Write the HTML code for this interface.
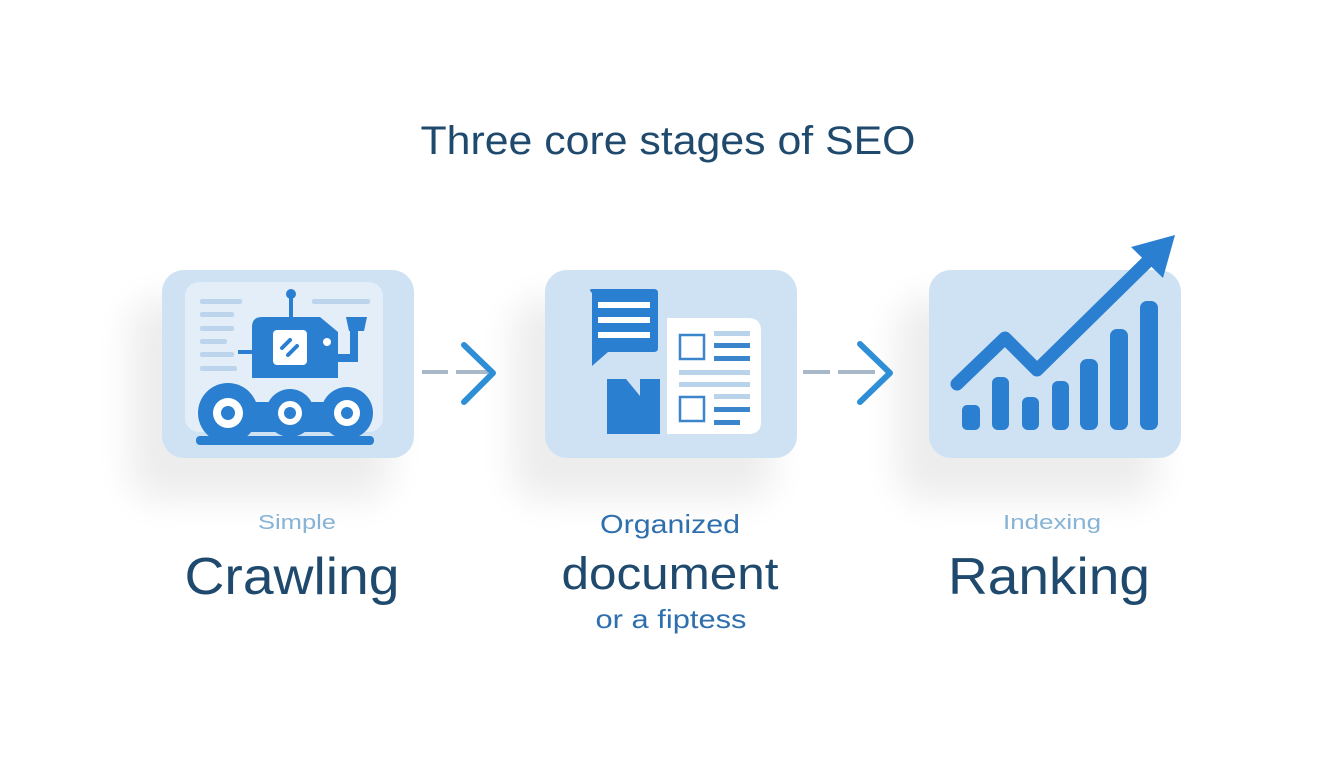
<!DOCTYPE html>
<html><head><meta charset="utf-8"><style>
html,body{margin:0;padding:0;background:#fff;}
svg{display:block;}
text{font-family:"Liberation Sans",sans-serif;}
</style></head><body>
<svg width="1344" height="768" viewBox="0 0 1344 768" xmlns="http://www.w3.org/2000/svg">
<defs>
<filter id="sh" x="-50%" y="-50%" width="200%" height="200%"><feGaussianBlur stdDeviation="18"/></filter>
</defs>
<rect width="1344" height="768" fill="#ffffff"/>
<text x="668" y="154" font-size="40" fill="#1f4a6e" text-anchor="middle" textLength="495" lengthAdjust="spacingAndGlyphs">Three core stages of SEO</text>

<!-- shadows -->
<g fill="#000" opacity="0.07" filter="url(#sh)">
<rect x="130" y="300" width="260" height="200" rx="24"/>
<rect x="513" y="300" width="260" height="200" rx="24"/>
<rect x="897" y="300" width="260" height="200" rx="24"/>
</g>

<!-- box1 -->
<rect x="162" y="270" width="252" height="188" rx="22" fill="#cfe2f4"/>
<rect x="185" y="282" width="198" height="150" rx="14" fill="#e3eef9"/>
<g fill="#bcd5ec">
<rect x="200" y="299" width="42" height="5" rx="2"/><rect x="200" y="312" width="34" height="5" rx="2"/>
<rect x="200" y="326" width="34" height="5" rx="2"/><rect x="200" y="339" width="27" height="5" rx="2"/>
<rect x="200" y="352" width="34" height="5" rx="2"/><rect x="200" y="366" width="37" height="5" rx="2"/>
<rect x="312" y="299" width="58" height="5" rx="2"/>
</g>
<g fill="#2a7fd0">
<circle cx="291" cy="294" r="5"/><rect x="289" y="294" width="4" height="24"/>
<path d="M262 317 H320 L338 332 V378 H252 V327 Q252 317 262 317Z"/>
<rect x="238" y="350" width="16" height="4"/>
<rect x="336" y="354" width="22" height="8"/><rect x="350" y="330" width="8" height="30"/>
<path d="M346 317 H367 L364 331 H349Z"/>
<rect x="196" y="436" width="178" height="9" rx="4"/>
<circle cx="228" cy="413" r="30"/><circle cx="290" cy="413" r="24"/><circle cx="347" cy="413" r="26"/>
<rect x="228" y="402" width="120" height="30"/>
</g>
<rect x="273" y="330" width="34" height="35" rx="4" fill="#fff"/>
<g stroke="#2a7fd0" stroke-width="4" stroke-linecap="round"><line x1="282" y1="348" x2="290" y2="340"/><line x1="288" y1="355" x2="297" y2="346"/></g>
<circle cx="327" cy="342" r="4" fill="#fff"/>
<g fill="#fff"><circle cx="228" cy="413" r="15"/><circle cx="290" cy="413" r="12"/><circle cx="347" cy="413" r="13"/></g>
<g fill="#2a7fd0"><circle cx="228" cy="413" r="7"/><circle cx="290" cy="413" r="6"/><circle cx="347" cy="413" r="6"/></g>

<!-- arrow1 -->
<g stroke="#a8b8c8" stroke-width="4"><line x1="422" y1="372" x2="448" y2="372"/><line x1="456" y1="372" x2="488" y2="372"/></g>
<polyline points="464,345 493,373 464,402" fill="none" stroke="#2f8fd6" stroke-width="6" stroke-linecap="round" stroke-linejoin="round"/>

<!-- box2 -->
<rect x="545" y="270" width="252" height="188" rx="22" fill="#cfe2f4"/>
<path d="M592 289 H654 Q658 289 658 293 V348 Q658 352 654 352 H608 L592 366 V293 Q588 289 592 289Z" fill="#2a7fd0"/>
<g fill="#fff"><rect x="598" y="302" width="52" height="6"/><rect x="598" y="317" width="52" height="6"/><rect x="598" y="332" width="52" height="6"/></g>
<path d="M607 379 H626 L640 396 V379 H660 V434 H607Z" fill="#2a7fd0"/>
<path d="M667 318 H748 Q761 318 761 331 V422 Q761 434 748 434 H667Z" fill="#fff"/>
<g fill="none" stroke="#3a85cc" stroke-width="2.5"><rect x="680" y="335" width="24" height="24"/><rect x="680" y="397" width="24" height="24"/></g>
<g fill="#b9d3eb"><rect x="714" y="331" width="36" height="5"/><rect x="679" y="370" width="71" height="5"/><rect x="679" y="382" width="71" height="5"/><rect x="714" y="394" width="36" height="5"/></g>
<g fill="#3a85cc"><rect x="714" y="343" width="36" height="5"/><rect x="714" y="356" width="36" height="5"/><rect x="714" y="407" width="36" height="5"/><rect x="714" y="420" width="26" height="5"/></g>

<!-- arrow2 -->
<g stroke="#a8b8c8" stroke-width="4"><line x1="803" y1="372" x2="830" y2="372"/><line x1="838" y1="372" x2="875" y2="372"/></g>
<polyline points="860,344 890,373 860,402" fill="none" stroke="#2f8fd6" stroke-width="6" stroke-linecap="round" stroke-linejoin="round"/>

<!-- box3 -->
<rect x="929" y="270" width="252" height="188" rx="22" fill="#cfe2f4"/>
<g fill="#2a7fd0">
<rect x="962" y="405" width="18" height="25" rx="5"/>
<rect x="992" y="377" width="17" height="53" rx="6"/>
<rect x="1022" y="397" width="17" height="33" rx="6"/>
<rect x="1052" y="381" width="17" height="49" rx="6"/>
<rect x="1080" y="359" width="18" height="71" rx="7"/>
<rect x="1110" y="329" width="18" height="101" rx="7"/>
<rect x="1140" y="301" width="18" height="129" rx="7"/>
<path d="M1131 247 L1175 235 L1163 278Z"/>
</g>
<polyline points="957,384 1005,338 1037,370 1150,259" fill="none" stroke="#2a7fd0" stroke-width="13" stroke-linecap="round" stroke-linejoin="round"/>

<!-- labels -->
<text x="297" y="529" font-size="20" fill="#86b3d6" text-anchor="middle" textLength="78" lengthAdjust="spacingAndGlyphs">Simple</text>
<text x="292" y="594" font-size="52" fill="#1f4a6e" text-anchor="middle" textLength="215" lengthAdjust="spacingAndGlyphs">Crawling</text>
<text x="670" y="533" font-size="26" fill="#2f6fae" text-anchor="middle" textLength="140" lengthAdjust="spacingAndGlyphs">Organized</text>
<text x="670" y="589" font-size="45" fill="#1f4a6e" text-anchor="middle" textLength="217" lengthAdjust="spacingAndGlyphs">document</text>
<text x="671" y="628" font-size="26" fill="#2f6fae" text-anchor="middle" textLength="151" lengthAdjust="spacingAndGlyphs">or a fiptess</text>
<text x="1052" y="529" font-size="20" fill="#86b3d6" text-anchor="middle" textLength="98" lengthAdjust="spacingAndGlyphs">Indexing</text>
<text x="1049" y="594" font-size="52" fill="#1f4a6e" text-anchor="middle" textLength="202" lengthAdjust="spacingAndGlyphs">Ranking</text>
</svg>
</body></html>
